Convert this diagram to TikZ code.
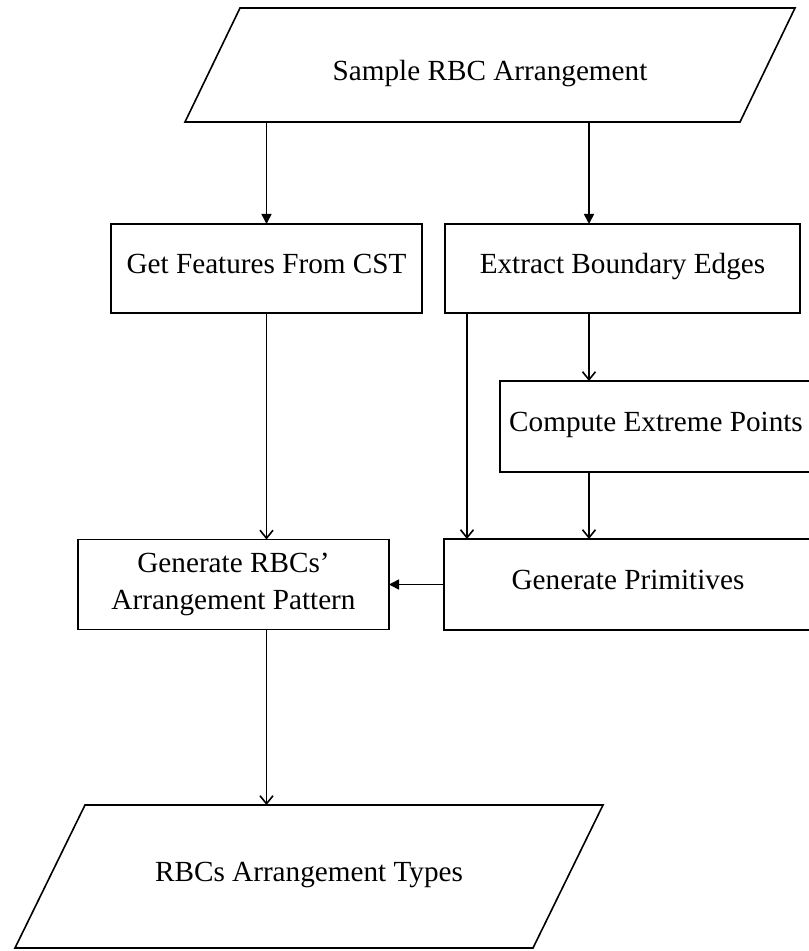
\documentclass[tikz,border=0pt]{standalone}
\usepackage{fontspec}
\setmainfont{Liberation Serif}
\usetikzlibrary{arrows.meta}

\def\pxu{0.5pt}

\begin{document}
\begin{tikzpicture}[
  x=0.5pt,y=-0.5pt,
  font=\fontsize{14.6}{18.5}\selectfont,
  line width=0.8pt,
  box/.style={draw,rectangle,align=center,inner sep=0pt,outer sep=0pt,fill=white},
  stepbox/.style={box,text height=0.68em,text depth=0.22em},
  iobox/.style={rectangle,align=center,inner sep=0pt,outer sep=0pt,
                text height=0.68em,text depth=0.22em},
  solid/.style={-{Triangle[length=5pt,width=5pt]}},
  open/.style={-{Straight Barb[length=4pt,width=6.5pt]}},
]
\useasboundingbox (0,0) rectangle (808,951);

% Column and row positions, in pixels of the original figure.
\def\LX{266.5}
\def\rowA{65}  \def\rowB{268.5}  \def\rowC{426.5}  \def\rowD{584.5}  \def\rowE{876.5}

% ---------------- input and output ----------------
% the rectangle is the mid-line of the parallelogram; its sides are drawn below
\node[iobox,minimum width=555*\pxu,minimum height=114*\pxu,text height=0.68em+11pt] (sample) at (490,\rowA) {Sample RBC Arrangement};
\node[iobox,minimum width=518*\pxu,minimum height=143*\pxu] (types) at (309,\rowE) {RBCs Arrangement Types};
\foreach \n/\s in {sample/27.5,types/35}{
  \draw ([xshift=\s*\pxu]\n.north west) -- ([xshift=\s*\pxu]\n.north east)
     -- ([xshift=-\s*\pxu]\n.south east) -- ([xshift=-\s*\pxu]\n.south west) -- cycle;
}

% ---------------- process steps ----------------
\node[stepbox,minimum width=311*\pxu,minimum height=89*\pxu] (feat) at (\LX,\rowB) {Get Features From CST};
\node[stepbox,minimum width=355*\pxu,minimum height=89*\pxu] (edges) at (622.5,\rowB) {Extract Boundary Edges};
\node[stepbox,minimum width=312*\pxu,minimum height=91*\pxu] (extreme) at (656,\rowC) {Compute Extreme Points};
\node[stepbox,minimum width=368*\pxu,minimum height=91*\pxu] (prims) at (628,\rowD) {Generate Primitives};
\node[box,minimum width=311*\pxu,minimum height=90*\pxu] (pattern) at (233.5,\rowD) {Generate RBCs’\\Arrangement Pattern};

% the two vertical runs on the right
\coordinate (mid) at (589,0);
\coordinate (side) at (467,0);

% ---------------- connectors ----------------
\draw[solid] (feat.north |- sample.south) -- (feat.north);
\draw[solid] (sample.south -| mid) -- (edges.north -| mid);
\draw[open] (edges.south -| mid) -- (extreme.north -| mid);
\draw[open] (extreme.south -| mid) -- (prims.north -| mid);
\draw[open] (edges.south -| side) -- (prims.north -| side);
\draw[open] (feat.south) -- (pattern.north -| feat.south);
\draw[solid] (prims.west) -- (prims.west -| pattern.east);
\draw[open] (pattern.south -| feat.south) -- (types.north -| feat.south);

\end{tikzpicture}
\end{document}
